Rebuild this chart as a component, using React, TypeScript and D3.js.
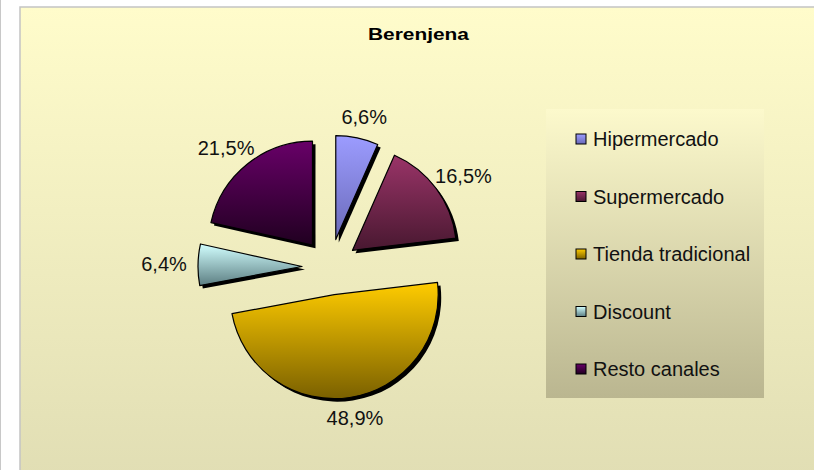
import React from 'react';
import * as d3 from 'd3';

const categories = ['Hipermercado', 'Supermercado', 'Tienda tradicional', 'Discount', 'Resto canales'];
const shares = [6.6, 16.5, 48.9, 6.4, 21.5];
const shareLabels = ['6,6%', '16,5%', '48,9%', '6,4%', '21,5%'];
const topColors = ['#9c9cff', '#9a3468', '#ffcc00', '#d2ffff', '#680068'];
const bottomColors = ['#6a6ab8', '#481830', '#7a6000', '#5c7e82', '#200020'];

const W = 814;
const H = 470;
const FONT = "'Liberation Sans', Arial, sans-serif";

const App = () => {
  const cx = 330;
  const cy = 267;
  const radius = 104;
  const explode = 28;

  const pie = d3.pie<number>().sort(null).value(d => d);
  const arcs = pie(shares);
  const arc = d3.arc<d3.PieArcDatum<number>>().innerRadius(0).outerRadius(radius);

  // legend layout
  const legend = { x: 546, y: 109, w: 218, h: 289 };
  const rowY = d3.scalePoint<string>().domain(categories).range([139, 369]);

  return (
    <svg width={W} height={H} style={{ position: 'absolute', left: 0, top: 0, fontFamily: FONT }}>
      <defs>
        <linearGradient id="bg" x1="0" y1="0" x2="0" y2="1">
          <stop offset="0%" stopColor="#fffccb" />
          <stop offset="100%" stopColor="#e1deb4" />
        </linearGradient>
        <linearGradient id="lg" x1="0" y1="0" x2="0" y2="1">
          <stop offset="0%" stopColor="#fcf9cc" />
          <stop offset="100%" stopColor="#bab690" />
        </linearGradient>
        {categories.map((c, i) => (
          <linearGradient key={c} id={`slice-${i}`} x1="0" y1="0" x2="0" y2="1">
            <stop offset="0%" stopColor={topColors[i]} />
            <stop offset="100%" stopColor={bottomColors[i]} />
          </linearGradient>
        ))}
      </defs>

      <rect x={0} y={0} width={W} height={H} fill="#ffffff" />
      <line x1={0.5} y1={0} x2={0.5} y2={H} stroke="#c8c8c8" />
      <rect x={20} y={7} width={W} height={H} fill="url(#bg)" stroke="#c4c4c4" strokeWidth={1.5} />

      {/* 标题 */}
      <text x={418.5} y={40} textAnchor="middle" fontSize={16.5} fontWeight="bold" textLength={101} lengthAdjust="spacingAndGlyphs">
        Berenjena
      </text>

      {/* 饼图 */}
      {arcs.map((a, i) => {
        const mid = (a.startAngle + a.endAngle) / 2;
        const dx = Math.sin(mid) * explode;
        const dy = -Math.cos(mid) * explode;
        const p = arc(a) || '';
        return (
          <g key={categories[i]} transform={`translate(${cx + dx},${cy + dy})`}>
            <path d={p} transform="translate(3,3)" fill="#000" />
            <path d={p} fill={`url(#slice-${i})`} stroke="#000" strokeWidth={1.2} strokeLinejoin="round" />
          </g>
        );
      })}

      {/* 百分比标签 */}
      {arcs.map((a, i) => {
        const mid = (a.startAngle + a.endAngle) / 2;
        return (
          <text
            key={`l-${i}`}
            x={cx + Math.sin(mid) * 166}
            y={cy - Math.cos(mid) * 153}
            textAnchor="middle"
            dominantBaseline="central"
            fontSize={20}
            fill="#111"
          >
            {shareLabels[i]}
          </text>
        );
      })}

      {/* 图例 */}
      <rect x={legend.x} y={legend.y} width={legend.w} height={legend.h} fill="url(#lg)" />
      {categories.map((c, i) => (
        <g key={`lg-${c}`} transform={`translate(576,${rowY(c)})`}>
          <rect x={0} y={-5} width={10} height={10} fill={`url(#slice-${i})`} stroke="#000" strokeWidth={1} />
          <text x={17} y={0} dominantBaseline="central" fontSize={20} fill="#111">
            {c}
          </text>
        </g>
      ))}
    </svg>
  );
};

export default App;
